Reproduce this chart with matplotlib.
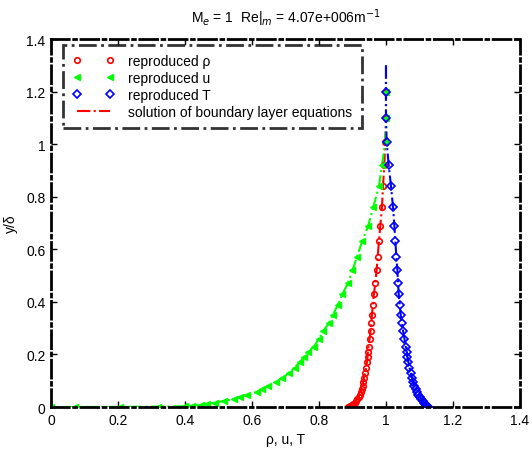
import matplotlib.pyplot as plt
from matplotlib.lines import Line2D

plt.rcParams['font.family'] = ['Liberation Sans', 'DejaVu Sans']

# wall-normal positions (y/delta) and profiles
y_pos = [1.30, 1.20, 1.10, 1.01, 0.92, 0.84, 0.76, 0.69, 0.63, 0.57, 0.52, 0.47,
         0.43, 0.39, 0.35, 0.32, 0.29, 0.26, 0.23, 0.21, 0.19, 0.17, 0.15, 0.13,
         0.11, 0.095, 0.08, 0.068, 0.057, 0.047, 0.038, 0.030, 0.023, 0.017,
         0.012, 0.008, 0.005, 0.003, 0.0015, 0.0007, 0.0002, 0.0]

rho = [1.0, 1.0, 1.0, 0.998, 0.995, 0.991, 0.988, 0.983, 0.979, 0.975, 0.972, 0.968,
       0.964, 0.961, 0.958, 0.956, 0.954, 0.951, 0.948, 0.946, 0.945, 0.943, 0.941, 0.938,
       0.934, 0.932, 0.930, 0.927, 0.924, 0.921, 0.918, 0.914, 0.910, 0.906,
       0.902, 0.898, 0.895, 0.893, 0.891, 0.890, 0.889, 0.888]

u = [1.0, 1.0, 1.0, 0.998, 0.988, 0.979, 0.962, 0.947, 0.929, 0.913, 0.900, 0.886,
     0.870, 0.857, 0.841, 0.830, 0.813, 0.800, 0.785, 0.767, 0.755, 0.742, 0.727, 0.711,
     0.690, 0.672, 0.648, 0.630, 0.615, 0.585, 0.565, 0.545, 0.515, 0.490,
     0.465, 0.448, 0.420, 0.400, 0.320, 0.206, 0.072, 0.0]

T = [1.0, 1.0, 1.0, 1.002, 1.008, 1.015, 1.021, 1.025, 1.028, 1.031, 1.034, 1.036,
     1.038, 1.041, 1.044, 1.047, 1.051, 1.055, 1.059, 1.062, 1.064, 1.067, 1.070, 1.074,
     1.078, 1.082, 1.085, 1.089, 1.093, 1.097, 1.101, 1.105, 1.109, 1.112,
     1.115, 1.118, 1.120, 1.122, 1.123, 1.124, 1.125, 1.125]

ticks = [0, 0.2, 0.4, 0.6, 0.8, 1, 1.2, 1.4]
tick_labels = ['0', '0.2', '0.4', '0.6', '0.8', '1', '1.2', '1.4']

fig = plt.figure(figsize=(5.32, 4.52), dpi=100)
ax = fig.add_axes([0.0959, 0.0973, 0.8815, 0.8142])

# solution of boundary layer equations (dash-dot lines)
ax.plot(rho, y_pos, color='red', linestyle='-.', linewidth=1.5)
ax.plot(u, y_pos, color=(0, 1, 0), linestyle='-.', linewidth=1.5)
ax.plot(T, y_pos, color='blue', linestyle='-.', linewidth=1.5)

# reproduced data (markers), none at the top end of the line
ax.plot(rho[1:], y_pos[1:], linestyle='none', marker='o', markersize=4,
        markerfacecolor='none', markeredgecolor='red', markeredgewidth=1.2)
ax.plot(u[1:], y_pos[1:], linestyle='none', marker='<', markersize=5,
        color=(0, 1, 0))
ax.plot(T[1:], y_pos[1:], linestyle='none', marker='D', markersize=4,
        markerfacecolor='none', markeredgecolor='blue', markeredgewidth=1.2)

ax.set_xlim(0, 1.4)
ax.set_ylim(0, 1.4)
ax.set_xticks(ticks)
ax.set_xticklabels(tick_labels)
ax.set_yticks(ticks)
ax.set_yticklabels(tick_labels)
ax.tick_params(direction='in', top=True, right=True, length=4, width=1,
               labelsize=10, pad=4)
for s in ax.spines.values():
    s.set_linestyle('-.')
    s.set_linewidth(2)

ax.set_xlabel('ρ, u, T', fontsize=10, labelpad=4)
ax.set_ylabel('y/δ', fontsize=10, labelpad=6)
ax.set_title(r'M$_e$ = 1  Re|$_m$ = 4.07e+006m$^{-1}$', fontsize=10, pad=12)

handles = [
    Line2D([], [], linestyle='none', marker='o', markersize=4,
           markerfacecolor='none', markeredgecolor='red', markeredgewidth=1.2),
    Line2D([], [], linestyle='none', marker='<', markersize=5, color=(0, 1, 0)),
    Line2D([], [], linestyle='none', marker='D', markersize=4,
           markerfacecolor='none', markeredgecolor='blue', markeredgewidth=1.2),
    Line2D([], [], color='red', linestyle='-.', linewidth=1.5),
]
labels = ['reproduced ρ', 'reproduced u', 'reproduced T',
          'solution of boundary layer equations']
leg = ax.legend(handles, labels, loc='upper left', bbox_to_anchor=(0.025, 0.985),
                numpoints=2, handlelength=3.0, fontsize=10, fancybox=False,
                borderpad=0.7, labelspacing=0.2, handletextpad=1.0,
                borderaxespad=0)
leg.get_frame().set_linestyle('-.')
leg.get_frame().set_linewidth(2)
leg.get_frame().set_edgecolor('black')

fig.savefig('out.png', dpi=100)
